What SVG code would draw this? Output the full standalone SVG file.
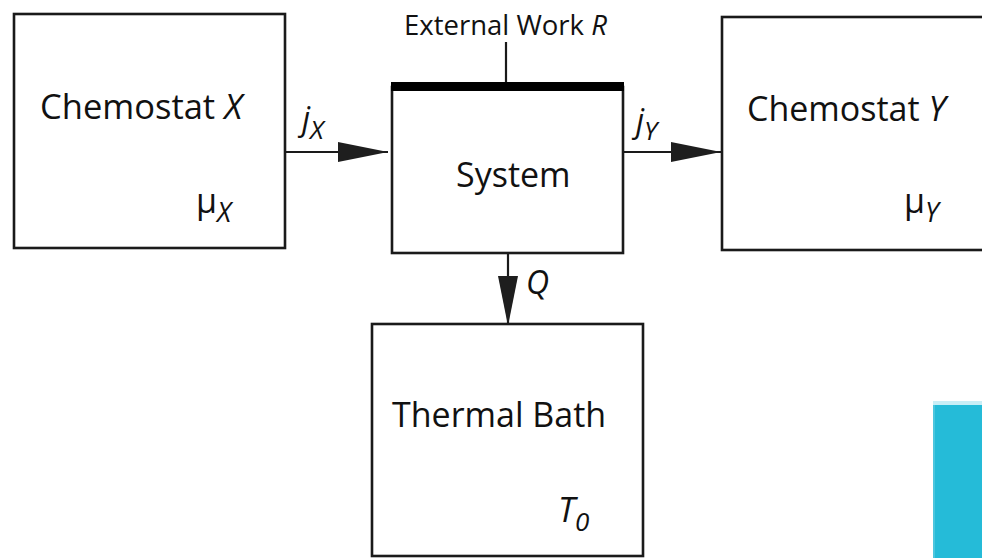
<svg xmlns="http://www.w3.org/2000/svg" width="982" height="558" viewBox="0 0 982 558">
<style>
.box{fill:#fff;stroke:#1a1a1a;stroke-width:2.6}
.ln{stroke:#1a1a1a;stroke-width:2.2;fill:none}
.t{font-family:"Open Sans","Noto Sans",sans-serif;fill:#111}
.i{font-style:italic}
</style>
<defs>
<marker id="ah" viewBox="0 0 50 20" refX="50" refY="10" markerWidth="50" markerHeight="20" markerUnits="userSpaceOnUse" orient="auto">
<path d="M0,0 L50,10 L0,20 Z" fill="#1e1e1e"/>
</marker>
</defs>
<rect x="933" y="401" width="49" height="157" fill="#25bbd8"/>
<rect x="933" y="401" width="49" height="4" fill="#c9eef6"/>
<rect x="933" y="405" width="2" height="153" fill="#4cc6de"/>
<g id="connectors">
<line class="ln" x1="285" y1="152" x2="388" y2="152" marker-end="url(#ah)"/>
<line class="ln" x1="623" y1="152" x2="721" y2="152" marker-end="url(#ah)"/>
<line class="ln" x1="508" y1="253" x2="508" y2="326" marker-end="url(#ah)"/>
<line class="ln" x1="506" y1="42" x2="506" y2="84"/>
<text class="t i" x="302" y="130" font-size="32">j<tspan font-size="26" dy="9">X</tspan></text>
<text class="t i" x="636" y="132" font-size="32">j<tspan font-size="26" dy="8">Y</tspan></text>
<text class="t i" x="526" y="294" font-size="32">Q</text>
<text class="t" x="404" y="35" font-size="27.5">External Work <tspan class="i">R</tspan></text>
</g>
<g id="chemostatX">
<rect class="box" x="14" y="14" width="271" height="234"/>
<text class="t" x="40" y="119" font-size="34.5">Chemostat <tspan class="i">X</tspan></text>
<text class="t" x="196" y="213" font-size="34">μ<tspan class="i" font-size="27" dy="9">X</tspan></text>
</g>
<g id="system">
<rect class="box" x="392" y="87" width="231" height="166"/>
<rect x="391" y="82" width="233" height="9" fill="#000"/>
<text class="t" x="456" y="187" font-size="34">System</text>
</g>
<g id="chemostatY">
<rect class="box" x="722" y="17" width="280" height="233"/>
<text class="t" x="747" y="121" font-size="34">Chemostat <tspan class="i">Y</tspan></text>
<text class="t" x="904" y="213" font-size="34">μ<tspan class="i" font-size="27" dy="9">Y</tspan></text>
</g>
<g id="thermalBath">
<rect class="box" x="372" y="324" width="271" height="232"/>
<text class="t" x="392" y="427" font-size="34">Thermal Bath</text>
<text class="t i" x="558" y="522" font-size="34">T<tspan font-size="26" dy="9">0</tspan></text>
</g>
</svg>
